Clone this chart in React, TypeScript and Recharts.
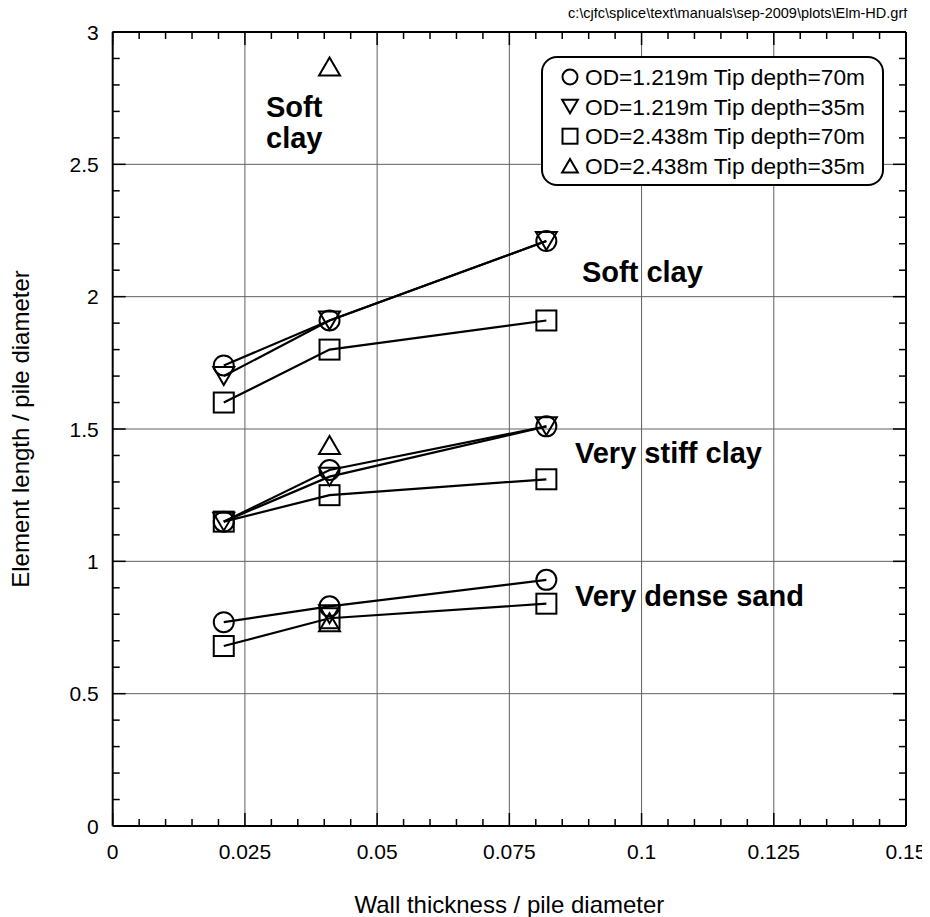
import React from 'react';
import { ComposedChart, Line, XAxis, YAxis, CartesianGrid, ReferenceLine } from 'recharts';

const FONT = '"Liberation Sans", Arial, Helvetica, sans-serif';

// ---- data ----
const wallRatio = [0.021, 0.041, 0.082];
const midRatio = [0.041];

// OD=1.219m Tip depth=70m (circle)
const c70Soft = [1.74, 1.91, 2.21];
const c70Stiff = [1.15, 1.345, 1.51];
const c70Sand = [0.77, 0.83, 0.93];
// OD=1.219m Tip depth=35m (inverted triangle)
const d35Soft = [1.7, 1.91, 2.21];
const d35Stiff = [1.15, 1.32, 1.51];
const d35Sand = [0.8];
// OD=2.438m Tip depth=70m (square)
const s70Soft = [1.6, 1.8, 1.91];
const s70Stiff = [1.15, 1.25, 1.31];
const s70Sand = [0.68, 0.785, 0.84];
// OD=2.438m Tip depth=35m (triangle)
const u35Soft = [2.87];
const u35Stiff = [1.44];
const u35Sand = [0.77];

const legendLabels = [
  'OD=1.219m Tip depth=70m',
  'OD=1.219m Tip depth=35m',
  'OD=2.438m Tip depth=70m',
  'OD=2.438m Tip depth=35m',
];
const legendShapes = ['circle', 'down', 'square', 'up'];

const xMajorValues = [0, 0.025, 0.05, 0.075, 0.1, 0.125, 0.15];
const xMajorLabels = ['0', '0.025', '0.05', '0.075', '0.1', '0.125', '0.15'];
const yMajorValues = [0, 0.5, 1, 1.5, 2, 2.5, 3];
const yMajorLabels = ['0', '0.5', '1', '1.5', '2', '2.5', '3'];
const xMinorTicks = Array.from({ length: 31 }, (_, i) => Math.round(i * 5) / 1000);
const yMinorTicks = Array.from({ length: 31 }, (_, i) => Math.round(i) / 10);

const annotations = [
  { text: 'Soft clay', x: 582, y: 282 },
  { text: 'Very stiff clay', x: 575, y: 463 },
  { text: 'Very dense sand', x: 575, y: 606 },
  { text: 'Soft', x: 266, y: 117 },
  { text: 'clay', x: 266, y: 148 },
];

const toPts = (xs: number[], ys: number[]) => xs.map((x, i) => ({ x, y: ys[i] }));

const series = [
  { id: 'c70Soft', shape: 'circle', data: toPts(wallRatio, c70Soft) },
  { id: 'c70Stiff', shape: 'circle', data: toPts(wallRatio, c70Stiff) },
  { id: 'c70Sand', shape: 'circle', data: toPts(wallRatio, c70Sand) },
  { id: 'd35Soft', shape: 'down', data: toPts(wallRatio, d35Soft) },
  { id: 'd35Stiff', shape: 'down', data: toPts(wallRatio, d35Stiff) },
  { id: 'd35Sand', shape: 'down', data: toPts(midRatio, d35Sand) },
  { id: 's70Soft', shape: 'square', data: toPts(wallRatio, s70Soft) },
  { id: 's70Stiff', shape: 'square', data: toPts(wallRatio, s70Stiff) },
  { id: 's70Sand', shape: 'square', data: toPts(wallRatio, s70Sand) },
  { id: 'u35Soft', shape: 'up', data: toPts(midRatio, u35Soft) },
  { id: 'u35Stiff', shape: 'up', data: toPts(midRatio, u35Stiff) },
  { id: 'u35Sand', shape: 'up', data: toPts(midRatio, u35Sand) },
];

// ---- markers ----
function Marker({ shape, cx, cy, s = 1 }: { shape: string; cx: number; cy: number; s?: number }) {
  const common = { fill: 'none', stroke: '#000', strokeWidth: 2 };
  if (shape === 'circle') return <circle cx={cx} cy={cy} r={10 * s} {...common} />;
  if (shape === 'square')
    return <rect x={cx - 10 * s} y={cy - 10 * s} width={20 * s} height={20 * s} {...common} />;
  if (shape === 'down')
    return (
      <polygon
        points={`${cx - 10.5 * s},${cy - 9 * s} ${cx + 10.5 * s},${cy - 9 * s} ${cx},${cy + 9 * s}`}
        {...common}
      />
    );
  return (
    <polygon
      points={`${cx - 10.5 * s},${cy + 9 * s} ${cx + 10.5 * s},${cy + 9 * s} ${cx},${cy - 9 * s}`}
      {...common}
    />
  );
}

const majorIndex = (v: number, majors: number[]) => majors.findIndex((m) => Math.abs(m - v) < 1e-9);

const BottomTick = (props: any) => {
  const { x, y, payload } = props;
  const i = majorIndex(payload.value, xMajorValues);
  return (
    <g>
      <line x1={x} x2={x} y1={y} y2={y - (i >= 0 ? 13 : 7)} stroke="#000" strokeWidth={1.5} />
      {i >= 0 && (
        <text x={x} y={y + 33} textAnchor="middle" fontSize={21} fontFamily={FONT} fill="#000">
          {xMajorLabels[i]}
        </text>
      )}
    </g>
  );
};
const TopTick = (props: any) => {
  const { x, y, payload } = props;
  const i = majorIndex(payload.value, xMajorValues);
  return <line x1={x} x2={x} y1={y} y2={y + (i >= 0 ? 13 : 7)} stroke="#000" strokeWidth={1.5} />;
};
const LeftTick = (props: any) => {
  const { x, y, payload } = props;
  const i = majorIndex(payload.value, yMajorValues);
  return (
    <g>
      <line x1={x} x2={x + (i >= 0 ? 13 : 7)} y1={y} y2={y} stroke="#000" strokeWidth={1.5} />
      {i >= 0 && (
        <text x={x - 14} y={y + 7.5} textAnchor="end" fontSize={21} fontFamily={FONT} fill="#000">
          {yMajorLabels[i]}
        </text>
      )}
    </g>
  );
};
const RightTick = (props: any) => {
  const { x, y, payload } = props;
  const i = majorIndex(payload.value, yMajorValues);
  return <line x1={x} x2={x - (i >= 0 ? 13 : 7)} y1={y} y2={y} stroke="#000" strokeWidth={1.5} />;
};

export default function App() {
  return (
    <div style={{ margin: -8, width: 930, height: 925, position: 'relative', background: '#fff' }}>
      <ComposedChart
        width={930}
        height={917}
        margin={{ top: 31, right: 23, bottom: 61, left: 52.7 }}
      >
        <CartesianGrid
          stroke="#606060"
          strokeWidth={1}
          horizontalValues={[0.5, 1, 1.5, 2, 2.5]}
          verticalValues={[0.025, 0.05, 0.075, 0.1, 0.125]}
        />
        <XAxis
          xAxisId={0}
          dataKey="x"
          type="number"
          domain={[0, 0.15]}
          ticks={xMinorTicks}
          interval={0}
          height={30}
          tickSize={0}
          tickMargin={0}
          tickLine={false}
          tick={<BottomTick />}
          axisLine={{ stroke: '#000', strokeWidth: 2 }}
          allowDataOverflow
        />
        <XAxis
          xAxisId="top"
          orientation="top"
          dataKey="x"
          type="number"
          domain={[0, 0.15]}
          ticks={xMinorTicks}
          interval={0}
          height={1}
          tickSize={0}
          tickMargin={0}
          tickLine={false}
          tick={<TopTick />}
          axisLine={{ stroke: '#000', strokeWidth: 2 }}
          allowDataOverflow
        />
        <YAxis
          yAxisId={0}
          type="number"
          domain={[0, 3]}
          ticks={yMinorTicks}
          interval={0}
          width={60}
          tickSize={0}
          tickMargin={0}
          tickLine={false}
          tick={<LeftTick />}
          axisLine={{ stroke: '#000', strokeWidth: 2 }}
          allowDataOverflow
        />
        <YAxis
          yAxisId="right"
          orientation="right"
          type="number"
          domain={[0, 3]}
          ticks={yMinorTicks}
          interval={0}
          width={1}
          tickSize={0}
          tickMargin={0}
          tickLine={false}
          tick={<RightTick />}
          axisLine={{ stroke: '#000', strokeWidth: 2 }}
          allowDataOverflow
        />
        <ReferenceLine y={3} stroke="#000" strokeWidth={2} ifOverflow="visible" />
        <ReferenceLine x={0.15} stroke="#000" strokeWidth={2} ifOverflow="visible" />
        {series.map((s) => (
          <Line
            key={s.id}
            data={s.data}
            dataKey="y"
            xAxisId={0}
            yAxisId={0}
            type="linear"
            stroke="#000"
            strokeWidth={2.2}
            isAnimationActive={false}
            dot={(p: any) => <Marker key={`${s.id}-${p.index}`} shape={s.shape} cx={p.cx} cy={p.cy} />}
            activeDot={false}
          />
        ))}
      </ComposedChart>
      <svg
        width={930}
        height={917}
        style={{ position: 'absolute', left: 0, top: 0, pointerEvents: 'none' }}
        fontFamily={FONT}
      >
        <text x={568} y={18} fontSize={14.5} fill="#000">
          {'c:\\cjfc\\splice\\text\\manuals\\sep-2009\\plots\\Elm-HD.grf'}
        </text>
        <text x={509.4} y={913} textAnchor="middle" fontSize={24} fill="#000">
          Wall thickness / pile diameter
        </text>
        <text
          x={29}
          y={429}
          textAnchor="middle"
          fontSize={24}
          fill="#000"
          transform="rotate(-90 29 429)"
        >
          Element length / pile diameter
        </text>
        {annotations.map((a) => (
          <text key={a.text + a.y} x={a.x} y={a.y} fontSize={29} fontWeight="bold" fill="#000">
            {a.text}
          </text>
        ))}
        <rect x={542} y={57} width={341} height={128} rx={15} ry={15} fill="#fff" stroke="#000" strokeWidth={2} />
        {legendLabels.map((l, i) => {
          const cy = 77 + i * 29.6;
          return (
            <g key={l}>
              <Marker shape={legendShapes[i]} cx={570} cy={cy} s={0.75} />
              <text x={585} y={cy + 8} fontSize={22.7} fill="#000">
                {l}
              </text>
            </g>
          );
        })}
      </svg>
    </div>
  );
}
